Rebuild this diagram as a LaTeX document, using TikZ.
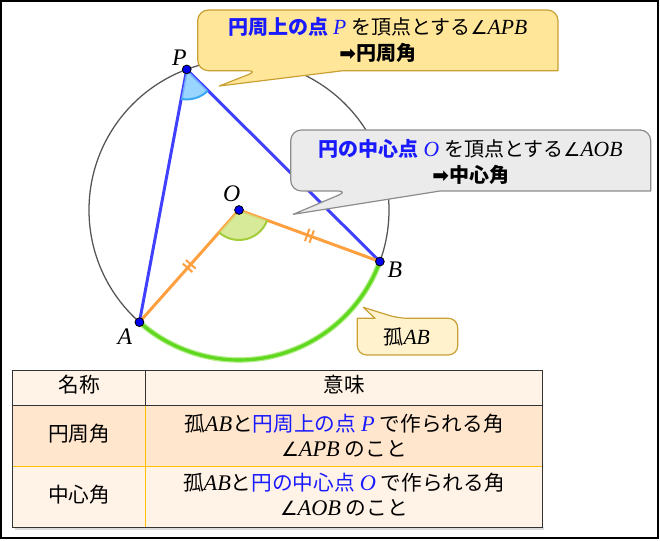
\documentclass[tikz,border=0pt]{standalone}
\usepackage{fontspec}
\setmainfont{Noto Sans CJK JP}
\newfontfamily\dejavu{DejaVu Sans}
\newfontfamily\lsifam{Liberation Serif}
\newcommand\vv[1]{{\lsifam\mdseries\itshape\fontsize{1.08em}{1em}\selectfont #1}}
\newcommand\ang{{\dejavu\mdseries\fontsize{0.95em}{1em}\selectfont ∠}}
\newcommand\gp{\hspace{0.24em}}
\usetikzlibrary{calc}
\definecolor{bluepen}{HTML}{4040FF}
\definecolor{orangepen}{HTML}{FFA040}
\definecolor{greenarc}{HTML}{5FD81F}
\definecolor{greenglow}{HTML}{B4EE8A}
\definecolor{secPfill}{HTML}{7FCBFF}
\definecolor{secPline}{HTML}{3AA8F0}
\definecolor{secOfill}{HTML}{CDE57F}
\definecolor{secOline}{HTML}{A3CC3A}
\definecolor{dotblue}{HTML}{0000EE}
\definecolor{cAfill}{HTML}{FFE699}
\definecolor{cAline}{HTML}{C9A034}
\definecolor{cBfill}{HTML}{EBEBEB}
\definecolor{cBline}{HTML}{8C8C8C}
\definecolor{cCfill}{HTML}{FFF2CC}
\definecolor{tblue}{HTML}{1A1AFF}
\definecolor{thead}{HTML}{FFF2E6}
\definecolor{trow}{HTML}{FFE6CC}
\definecolor{tgold}{HTML}{FFC000}
\definecolor{tdark}{HTML}{333333}
\definecolor{circgray}{HTML}{555555}
\begin{document}
\begin{tikzpicture}[x=0.75pt,y=0.75pt,
  jp/.style={font=\fontsize{15}{19.5}\selectfont, inner sep=0pt, align=center},
  jptab/.style={font=\fontsize{15.5}{18.8}\selectfont, inner sep=0pt, align=center},
  ptlabel/.style={font=\fontsize{16.5}{19}\selectfont, inner sep=0pt},
  seg/.style={line width=2.25pt},
  tick/.style={orangepen, line width=1.5pt},
  dotstyle/.style={fill=dotblue, draw=black, line width=0.6pt},
  calloutA/.style={fill=cAfill, draw=cAline, line width=0.9pt, line join=round},
  calloutB/.style={fill=cBfill, draw=cBline, line width=0.9pt, line join=round},
  calloutC/.style={fill=cCfill, draw=cAline, line width=0.9pt, line join=round},
  darkline/.style={draw=tdark, line width=1.1pt},
  goldline/.style={draw=tgold, line width=1.1pt}]
\useasboundingbox (0,0) rectangle (660,540);
% frame
\draw[line width=1.1pt] (1.2,2.2) rectangle (658.2,538.8);

% geometry
\coordinate (O) at (239,330);
\coordinate (P) at ($(O)+(110.4:150)$);
\coordinate (A) at ($(O)+(228.4:150)$);
\coordinate (B) at ($(O)+(339.9:150)$);

\draw[circgray, line width=0.95pt] (O) circle[radius=150];
\draw[greenglow, line width=4.2pt] (A) arc[start angle=228.4, end angle=339.9, radius=150];
\draw[greenarc, line width=2.4pt] (A) arc[start angle=228.4, end angle=339.9, radius=150];

\draw[seg, bluepen] (P) -- (A);
\draw[seg, bluepen] (P) -- (B);
\draw[seg, orangepen] (O) -- (A);
\draw[seg, orangepen] (O) -- (B);

% equal-length ticks
\coordinate (mOA) at ($(O)!0.5!(A)$);
\coordinate (mOB) at ($(O)!0.5!(B)$);
\begin{scope}[shift={(mOA)}, rotate=228.4]
  \draw[tick] (-2.4,-6.5) -- (-2.4,6.5) (2.4,-6.5) -- (2.4,6.5);
\end{scope}
\begin{scope}[shift={(mOB)}, rotate=339.9]
  \draw[tick] (-2.4,-6.5) -- (-2.4,6.5) (2.4,-6.5) -- (2.4,6.5);
\end{scope}

% angle sectors
\fill[secPfill, fill opacity=0.8] (P) -- ++(259.4:30) arc[start angle=259.4, end angle=315.15, radius=30] -- cycle;
\draw[secPline, line width=1.5pt] ($(P)+(259.4:30)$) arc[start angle=259.4, end angle=315.15, radius=30];
\fill[secOfill, fill opacity=0.8] (O) -- ++(228.4:30) arc[start angle=228.4, end angle=339.9, radius=30] -- cycle;
\draw[secOline, line width=1.5pt] ($(O)+(228.4:30)$) arc[start angle=228.4, end angle=339.9, radius=30];

% points
\foreach \p in {P,O,A,B} { \filldraw[dotstyle] (\p) circle[radius=4.4]; }
\node[ptlabel] (lP) at (179.3,482.7) {\vv{P}};
\node[ptlabel] (lO) at (231.7,346.7) {\vv{O}};
\node[ptlabel] (lA) at (125,203.3) {\vv{A}};
\node[ptlabel] (lB) at (395,270) {\vv{B}};

% callout 1
\draw[calloutA] (219.3,454) -- (343,469.3) -- (558,469.3) [rounded corners=8] -- (558,530) -- (197.7,530) -- (197.7,469.3) -- (258.3,469.3) [sharp corners] -- cycle;
\node[jp] (t1) at (377.8,500) {\textcolor{tblue}{\bfseries 円周上の点\gp\vv{P}}\gp を頂点とする\ang\vv{APB}\\{\bfseries{\dejavu ➡}円周角}};

% callout 2
\draw[calloutB] (293.3,325.7) -- (440,349) -- (650.7,349) [rounded corners=8] -- (650.7,410) -- (290.7,410) -- (290.7,349) -- (348.3,349) [sharp corners] -- cycle;
\node[jp] (t2) at (470.7,378.5) {\textcolor{tblue}{\bfseries 円の中心点\gp\vv{O}}\gp を頂点とする\ang\vv{AOB}\\{\bfseries{\dejavu ➡}中心角}};

% callout 3
\draw[calloutC] (363.3,232.7) -- (375,221.7) -- (357.3,221.7) [rounded corners=7] -- (357.3,185) -- (457.7,185) -- (457.7,221.7) -- (398.3,221.7) [sharp corners] -- cycle;
\node[jp] (t3) at (406.7,202.7) {孤\vv{AB}};

% table
\fill[black!14] (14.5,10.2) rectangle (544,12.7);
\fill[thead] (12.7,134.3) rectangle (542.5,169.3);
\fill[trow] (12.7,73.3) rectangle (542.5,134.3);
\fill[thead] (12.7,12.7) rectangle (542.5,73.3);
\draw[goldline] (145.7,12.7) -- (145.7,134.3);
\draw[goldline] (12.7,73.3) -- (542.5,73.3);
\draw[darkline] (12.7,134.3) -- (542.5,134.3);
\draw[darkline] (145.7,134.3) -- (145.7,169.3);
\draw[darkline] (12.7,12.7) rectangle (542.5,169.3);

\node[jptab] (h1) at (79,155) {名称};
\node[jptab] (h2) at (344,155) {意味};
\node[jptab] (r1a) at (79,106.7) {円周角};
\node[jptab] (r1b) at (344,104.2) {孤\vv{AB}と\textcolor{tblue}{円周上の点\gp\vv{P}}\gp で作られる角\\\ang\vv{APB}\gp のこと};
\node[jptab] (r2a) at (79,45) {中心角};
\node[jptab] (r2b) at (344,45) {孤\vv{AB}と\textcolor{tblue}{円の中心点\gp\vv{O}}\gp で作られる角\\\ang\vv{AOB}\gp のこと};
\end{tikzpicture}
\end{document}
